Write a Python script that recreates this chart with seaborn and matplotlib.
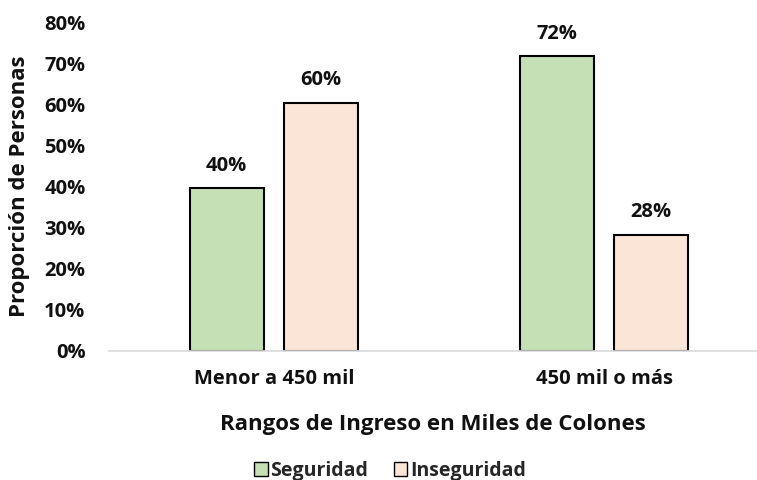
import matplotlib
matplotlib.use("Agg")
import matplotlib.pyplot as plt
import seaborn as sns
import pandas as pd
from matplotlib.patches import Patch

categories = ["Menor a 450 mil", "450 mil o más"]
series = ["Seguridad", "Inseguridad"]
seguridad = [0.396, 0.717]
inseguridad = [0.604, 0.283]
labels_seg = ["40%", "72%"]
labels_inseg = ["60%", "28%"]
yticks = [0, 0.1, 0.2, 0.3, 0.4, 0.5, 0.6, 0.7, 0.8]
ytick_labels = ["0%", "10%", "20%", "30%", "40%", "50%", "60%", "70%", "80%"]
colors = ["#C5E0B4", "#FBE5D6"]

sns.set_theme(style="white")
plt.rcParams['font.family'] = ['Open Sans', 'DejaVu Sans']
plt.rcParams['font.weight'] = 'bold'
FS = 14.5
LFS = 16
TXT = "#111111"

df = pd.DataFrame({
    "cat": categories * 2,
    "serie": [series[0]] * 2 + [series[1]] * 2,
    "val": seguridad + inseguridad,
})

fig = plt.figure(figsize=(7.57, 4.80), dpi=100)
ax = fig.add_axes([109/757, 129/480, 648/757, (351-22)/480])
sns.barplot(data=df, x="cat", y="val", hue="serie", order=categories,
            hue_order=series, palette=colors, saturation=1, width=0.573, gap=0.22,
            edgecolor="black", linewidth=1.5, ax=ax, legend=False)

for container, labs in zip(ax.containers, [labels_seg, labels_inseg]):
    ax.bar_label(container, labels=labs, padding=9, fontsize=FS,
                 fontweight="bold", color=TXT)

ax.set_ylim(0, 0.8)
ax.set_xlim(-0.5, (757-274)/330)
ax.set_yticks(yticks)
ax.set_yticklabels(ytick_labels, fontsize=FS, fontweight="bold", color=TXT)
ax.tick_params(axis="y", length=0, pad=17)
ax.tick_params(axis="x", length=0, pad=13, labelsize=FS, labelcolor=TXT)
for t in ax.get_xticklabels():
    t.set_fontweight("bold")
for s in ["top", "right", "left"]:
    ax.spines[s].set_visible(False)
ax.spines["bottom"].set_color("#D9D9D9")
ax.spines["bottom"].set_linewidth(1.2)

ax.set_xlabel("Rangos de Ingreso en Miles de Colones", fontsize=LFS,
              fontweight="bold", labelpad=18, color=TXT)
ax.set_ylabel("Proporción de Personas", fontsize=LFS, fontweight="bold",
              color=TXT)
ax.yaxis.set_label_coords((30-109)/648, 0.5)

handles = [Patch(facecolor=c, edgecolor="black", linewidth=1.0) for c in colors]
fig.legend(handles, series, loc="center", bbox_to_anchor=(390/757, 1-471/480),
           ncol=2, frameon=False, prop={"weight": "bold", "size": 14},
           handlelength=0.7, handleheight=0.7, handletextpad=0.15,
           columnspacing=1.3, borderpad=0)

fig.savefig("out.png", dpi=100)
